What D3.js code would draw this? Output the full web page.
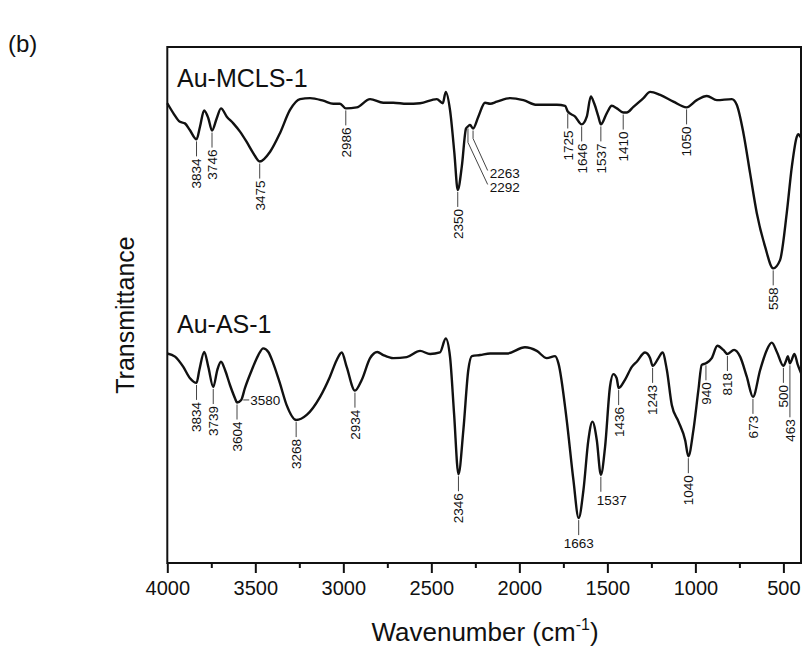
<!DOCTYPE html>
<html><head><meta charset="utf-8">
<script src="https://cdn.jsdelivr.net/npm/d3@7"></script>
<style>
body{margin:0;background:#fff}
svg{display:block}
text{font-family:Arial,"Liberation Sans",Helvetica,sans-serif;fill:#111}
</style>
</head><body>
<svg id="c" width="803" height="646"></svg>
<script>
// ---- data ----
const xTicksMajor = [4000,3500,3000,2500,2000,1500,1000,500];
const xTicksMinor = [3750,3250,2750,2250,1750,1250,750];
const seriesNames = ["Au-MCLS-1","Au-AS-1"];

// [wavenumber (cm-1), transmittance (a.u., offset)]
const topSpectrum = [
[4000,89.1],[3966,87.2],[3928,85.5],[3900,85.2],[3872,83.9],[3834,82.1],[3814,84.6],[3791,87.7],[3767,86.2],[3746,83.8],
[3719,86.2],[3695,88.1],[3662,86.5],[3625,85.2],[3587,83.6],[3549,81.6],[3511,79.4],[3475,77.8],[3416,79.7],[3360,83.3],
[3303,87.8],[3246,89.9],[3189,90.1],[3114,89.6],[3057,89.0],[3019,89.0],[2986,88.1],[2924,88.3],[2848,89.9],[2773,89.2],
[2716,89.2],[2640,89.0],[2564,89.1],[2469,89.9],[2435,89.1],[2418,91.3],[2394,87.8],[2369,79.4],[2350,72.3],[2327,76.8],
[2303,84.2],[2292,84.6],[2280,84.9],[2263,84.2],[2233,86.5],[2195,89.2],[2166,89.0],[2128,89.4],[2053,90.1],[1977,89.7],
[1901,88.8],[1787,88.8],[1740,88.6],[1725,87.5],[1683,86.5],[1646,85.0],[1617,86.5],[1594,90.4],[1575,89.1],[1551,86.5],
[1537,85.0],[1503,87.2],[1475,88.6],[1446,88.1],[1410,87.3],[1390,87.3],[1352,88.4],[1295,90.1],[1257,91.3],[1200,90.7],
[1125,89.4],[1050,88.3],[992,89.7],[935,90.5],[878,89.7],[793,89.9],[765,88.8],[727,83.3],[689,75.5],[651,67.8],
[604,61.3],[558,57.1],[519,58.7],[481,67.8],[452,76.8],[424,82.6],[416,83.1],[400,82.4]
];
const bottomSpectrum = [
[4000,40.6],[3956,40.0],[3909,38.0],[3871,35.8],[3834,34.9],[3818,37.4],[3790,40.9],[3767,38.0],[3739,34.1],[3716,37.4],
[3695,39.0],[3672,37.4],[3644,34.5],[3615,31.9],[3604,31.1],[3580,31.6],[3559,33.9],[3520,37.4],[3483,40.3],[3455,41.6],
[3426,40.9],[3398,38.7],[3360,34.8],[3322,30.6],[3268,27.7],[3208,28.7],[3132,32.2],[3076,36.1],[3038,39.3],[3009,40.8],
[2981,38.0],[2934,33.4],[2895,35.5],[2848,39.7],[2807,40.9],[2773,40.3],[2716,39.7],[2640,39.9],[2564,41.1],[2507,40.5],
[2451,40.8],[2418,43.5],[2394,40.0],[2371,29.0],[2346,17.2],[2318,25.8],[2290,37.4],[2270,40.1],[2223,40.3],[2166,40.6],
[2071,40.6],[1968,41.8],[1901,41.1],[1844,39.7],[1797,40.1],[1778,38.7],[1731,27.7],[1693,16.1],[1663,8.7],[1636,14.1],
[1608,23.8],[1585,27.4],[1560,23.8],[1537,17.1],[1513,22.5],[1485,34.2],[1466,36.6],[1447,35.8],[1436,33.9],[1400,35.5],
[1361,38.0],[1333,39.0],[1286,40.8],[1257,39.7],[1243,38.2],[1210,39.7],[1187,40.8],[1162,37.4],[1134,30.6],[1096,27.4],
[1058,23.8],[1040,20.7],[1011,25.8],[983,33.5],[964,38.4],[940,38.7],[907,39.7],[875,42.1],[841,41.3],[818,40.5],
[780,41.3],[746,40.0],[708,36.1],[673,32.2],[632,37.4],[594,41.3],[566,42.7],[537,40.9],[500,38.2],[485,39.2],
[475,40.1],[463,38.7],[437,40.5],[420,38.6],[400,36.8]
];

const topPeaks = [3834,3746,3475,2986,2350,1725,1646,1537,1410,1050,558];
const topLeaderPeaks = [2263,2292];
const bottomPeaks = [3834,3739,3604,3268,2934,2346,1436,1243,1040,940,818,673,500,463];
const bottomFlatPeaks = [1663,1537];
const bottomSidePeaks = [3580];

// ---- layout ----
const svg = d3.select("#c");
const x = d3.scaleLinear().domain([4000,400]).range([167.3,801]);
const y = d3.scaleLinear().domain([0,100]).range([563,47]);
const LINE_LEN = 15, GAP = 2, LABEL_FS = 13.5;
const longLines = {463:52};

function valAt(data, wn){
  for(let i=0;i<data.length-1;i++){
    const a=data[i], b=data[i+1];
    if(wn<=a[0] && wn>=b[0]){ const t=(a[0]-wn)/(a[0]-b[0]); return a[1]+t*(b[1]-a[1]); }
  }
  return data[data.length-1][1];
}

// frame
svg.append("rect").attr("x",x(4000)).attr("y",y(100)).attr("width",x(400)-x(4000)).attr("height",y(0)-y(100))
  .attr("fill","none").attr("stroke","#111").attr("stroke-width",2);

// axis
const axMaj = svg.append("g").attr("transform",`translate(0,${y(0)})`)
  .call(d3.axisBottom(x).tickValues(xTicksMajor).tickSize(10).tickPadding(8).tickFormat(d3.format("d")));
axMaj.select(".domain").remove();
axMaj.selectAll("line").attr("stroke","#111").attr("stroke-width",2);
axMaj.selectAll("text").attr("font-size",20).attr("font-family","Arial, 'Liberation Sans', sans-serif").attr("fill","#111");
const axMin = svg.append("g").attr("transform",`translate(0,${y(0)})`)
  .call(d3.axisBottom(x).tickValues(xTicksMinor).tickSize(5).tickFormat(""));
axMin.select(".domain").remove();
axMin.selectAll("line").attr("stroke","#111").attr("stroke-width",2);

// curves
const line = d3.line().x(d=>x(d[0])).y(d=>y(d[1])).curve(d3.curveMonotoneX);
[topSpectrum, bottomSpectrum].forEach(s=>{
  svg.append("path").datum(s).attr("d",line).attr("fill","none").attr("stroke","#111")
    .attr("stroke-width",2.4).attr("stroke-linejoin","round");
});

// series names
svg.append("text").attr("x",177).attr("y",87).attr("font-size",25).text(seriesNames[0]);
svg.append("text").attr("x",177).attr("y",333).attr("font-size",25).text(seriesNames[1]);

const ann = svg.append("g");
function vLabel(data, wn){
  const px = x(wn), y0 = y(valAt(data,wn)) + GAP;
  const len = longLines[wn] || LINE_LEN;
  ann.append("line").attr("x1",px).attr("x2",px).attr("y1",y0).attr("y2",y0+len)
    .attr("stroke","#444").attr("stroke-width",1);
  ann.append("text").attr("transform",`translate(${px},${y0+len+2}) rotate(-90)`)
    .attr("text-anchor","end").attr("dy","0.36em").attr("font-size",LABEL_FS).text(wn);
}
topPeaks.forEach(w=>vLabel(topSpectrum,w));
bottomPeaks.forEach(w=>vLabel(bottomSpectrum,w));

// leader labels (2263, 2292)
topLeaderPeaks.forEach((wn,i)=>{
  const px = x(wn), y0 = y(valAt(topSpectrum,wn)) + GAP;
  const drop = i===0 ? 8 : 14, endY = i===0 ? y0+40 : y0+56;
  const endX = x(2180);
  ann.append("polyline").attr("points",`${px},${y0} ${px},${y0+drop} ${endX},${endY}`)
    .attr("fill","none").attr("stroke","#444").attr("stroke-width",1);
  ann.append("text").attr("x",endX+2).attr("y",endY+3).attr("dy","0.36em").attr("font-size",LABEL_FS).text(wn);
});

// flat labels at bottom (1663 centred, 1537 starting left of line)
bottomFlatPeaks.forEach((wn,i)=>{
  const px = x(wn), y0 = y(valAt(bottomSpectrum,wn)) + GAP;
  ann.append("line").attr("x1",px).attr("x2",px).attr("y1",y0).attr("y2",y0+LINE_LEN)
    .attr("stroke","#444").attr("stroke-width",1);
  ann.append("text").attr("x", i===0 ? px : px-4).attr("y",y0+LINE_LEN+2).attr("dy","0.8em")
    .attr("text-anchor", i===0 ? "middle" : "start").attr("font-size",LABEL_FS).text(wn);
});

// side label (3580)
bottomSidePeaks.forEach(wn=>{
  const px = x(wn), py = y(valAt(bottomSpectrum,wn));
  ann.append("line").attr("x1",px+2).attr("x2",px+8).attr("y1",py).attr("y2",py)
    .attr("stroke","#444").attr("stroke-width",1);
  ann.append("text").attr("x",px+9).attr("y",py).attr("dy","0.36em").attr("font-size",LABEL_FS).text(wn);
});

// titles
const xt = svg.append("text").attr("x",485).attr("y",641).attr("text-anchor","middle").attr("font-size",26);
xt.append("tspan").text("Wavenumber (cm");
xt.append("tspan").attr("font-size",16).attr("dy",-11).text("-1");
xt.append("tspan").attr("dy",11).text(")");
svg.append("text").attr("transform","translate(134,315) rotate(-90)").attr("text-anchor","middle")
  .attr("font-size",25).text("Transmittance");
svg.append("text").attr("x",8).attr("y",52).attr("font-size",24).text("(b)");
</script>
</body></html>
